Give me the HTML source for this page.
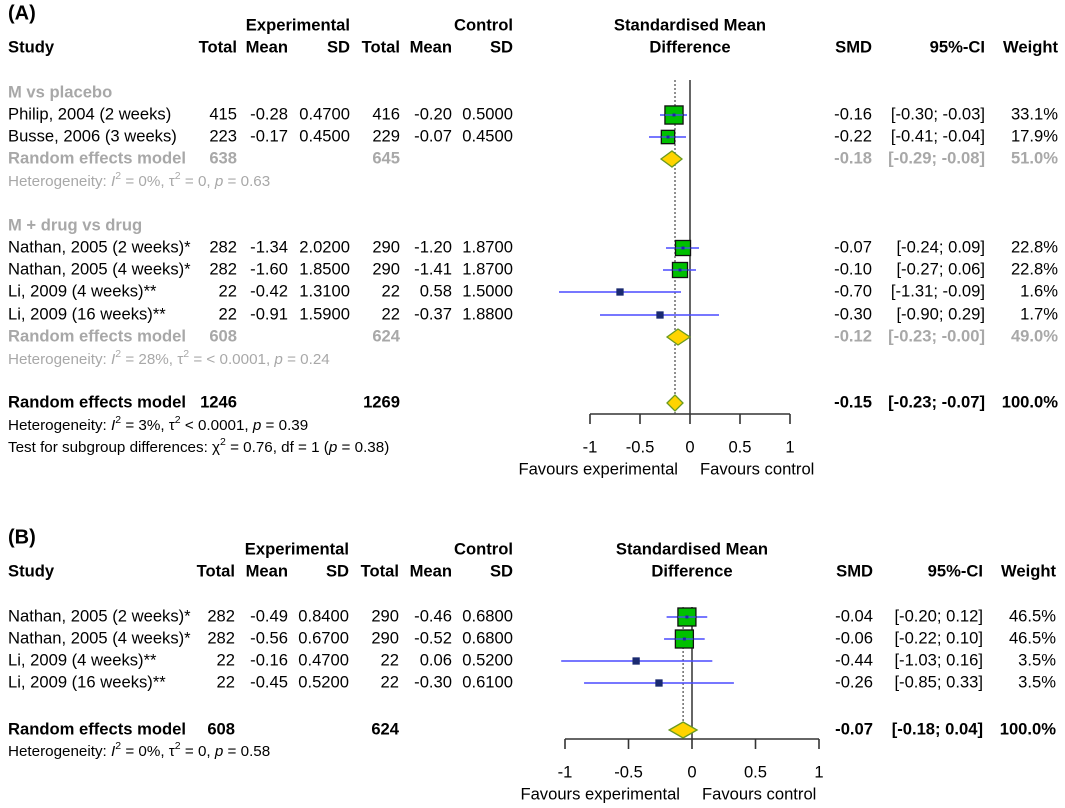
<!DOCTYPE html>
<html><head><meta charset="utf-8"><style>
html,body{margin:0;padding:0;background:#fff;width:1065px;height:808px;overflow:hidden}
svg{display:block;font-family:"Liberation Sans",Arial,sans-serif}
text{font-size:16.6px}
.b{font-weight:bold}
.g{fill:#a8a8a8}
</style></head><body>
<svg id="fp" width="1065" height="808" viewBox="0 0 1065 808"></svg>
<script>
// ---- Panel A data ----
const aStudies = ["Philip, 2004 (2 weeks)","Busse, 2006 (3 weeks)","Nathan, 2005 (2 weeks)*","Nathan, 2005 (4 weeks)*","Li, 2009 (4 weeks)**","Li, 2009 (16 weeks)**"];
const aExpTotal = [415,223,282,282,22,22];
const aExpMean = ["-0.28","-0.17","-1.34","-1.60","-0.42","-0.91"];
const aExpSD = ["0.4700","0.4500","2.0200","1.8500","1.3100","1.5900"];
const aCtlTotal = [416,229,290,290,22,22];
const aCtlMean = ["-0.20","-0.07","-1.20","-1.41","0.58","-0.37"];
const aCtlSD = ["0.5000","0.4500","1.8700","1.8700","1.5000","1.8800"];
const aSMD = [-0.16,-0.22,-0.07,-0.10,-0.70,-0.30];
const aLo = [-0.30,-0.41,-0.24,-0.27,-1.31,-0.90];
const aHi = [-0.03,-0.04,0.09,0.06,-0.09,0.29];
const aWeight = [33.1,17.9,22.8,22.8,1.6,1.7];
// pooled: subgroup1, subgroup2, overall
const aPoolSMD = [-0.18,-0.12,-0.15];
const aPoolLo = [-0.29,-0.23,-0.23];
const aPoolHi = [-0.08,-0.00,-0.07];
const aPoolW = [51.0,49.0,100.0];
const aPoolExpN = [638,608,1246];
const aPoolCtlN = [645,624,1269];
// ---- Panel B data ----
const bStudies = ["Nathan, 2005 (2 weeks)*","Nathan, 2005 (4 weeks)*","Li, 2009 (4 weeks)**","Li, 2009 (16 weeks)**"];
const bExpTotal = [282,282,22,22];
const bExpMean = ["-0.49","-0.56","-0.16","-0.45"];
const bExpSD = ["0.8400","0.6700","0.4700","0.5200"];
const bCtlTotal = [290,290,22,22];
const bCtlMean = ["-0.46","-0.52","0.06","-0.30"];
const bCtlSD = ["0.6800","0.6800","0.5200","0.6100"];
const bSMD = [-0.04,-0.06,-0.44,-0.26];
const bLo = [-0.20,-0.22,-1.03,-0.85];
const bHi = [0.12,0.10,0.16,0.33];
const bWeight = [46.5,46.5,3.5,3.5];
const bPoolSMD = [-0.07];
const bPoolLo = [-0.18];
const bPoolHi = [0.04];
const bPoolW = [100.0];
const bPoolExpN = [608];
const bPoolCtlN = [624];
const ticks = [-1,-0.5,0,0.5,1];
const tickLabels = ["-1","-0.5","0","0.5","1"];

const NS="http://www.w3.org/2000/svg";
const svg=document.getElementById('fp');
function mk(tag,attrs,parent){const e=document.createElementNS(NS,tag);for(const k in attrs)e.setAttribute(k,attrs[k]);(parent||svg).appendChild(e);return e;}
function txt(x,y,s,anchor,cls,name,parent){const t=mk('text',{x:x,y:y,'text-anchor':anchor||'start','dominant-baseline':'middle'},parent);if(cls)t.setAttribute('class',cls);t.textContent=s;


return t;}
function f2(v){return (v<0||Object.is(v,-0)?"-":"")+Math.abs(v).toFixed(2);}
function ci(lo,hi){const a=f2(lo),b=f2(hi);return "["+a+"; "+(b[0]==='-'?b:" "+b)+"]";}

function header(P,y0,label){
  txt(8,y0,label,'start','b','panel-label').setAttribute('style','font-size:20px');
  txt(P.c[2],y0+12,"Experimental",'end','b','experimental-header');
  txt(P.c[5],y0+12,"Control",'end','b','control-header');
  txt(P.zero,y0+12,"Standardised Mean",'middle','b','smd-header');
  txt(P.zero,y0+34,"Difference",'middle','b','smd-header-2');
  const h=["Total","Mean","SD","Total","Mean","SD"];
  txt(8,y0+34,"Study",'start','b','study-header');
  h.forEach((s,i)=>txt(P.c[i],y0+34,s,'end','b','col-header-'+s.toLowerCase()));
  txt(P.r[0],y0+34,"SMD",'end','b','smd-col-header');
  txt(P.r[1],y0+34,"95%-CI",'end','b','ci-col-header');
  txt(P.r[2],y0+34,"Weight",'end','b','weight-col-header');
}
function axis(P){
  const g=mk('g',{});
  const X=v=>P.zero+v*P.k;
  mk('line',{x1:X(ticks[0]),x2:X(ticks[ticks.length-1]),y1:P.ay,y2:P.ay,stroke:'#333','stroke-width':1.6},g);
  ticks.forEach((t,i)=>{mk('line',{x1:X(t),x2:X(t),y1:P.ay,y2:P.ay+10,stroke:'#333','stroke-width':1.6},g);
    txt(X(t),P.ay+34,tickLabels[i],'middle','','tick-label',g);});
  txt(P.zero-12,P.ay+56,"Favours experimental",'end','','favours-experimental',g);
  txt(P.zero+10,P.ay+56,"Favours control",'start','','favours-control',g);
  mk('line',{x1:X(0),x2:X(0),y1:P.top,y2:P.ay,stroke:'#333','stroke-width':1.5});
  mk('line',{x1:X(P.dot),x2:X(P.dot),y1:P.top,y2:P.ay,stroke:'#555','stroke-width':1.3,'stroke-dasharray':'2,2'});
}
function study(P,y,i,D){
  const X=v=>P.zero+v*P.k;
  txt(8,y,D.st[i],'start','','study-name');
  [D.et[i],D.em[i],D.es[i],D.ct[i],D.cm[i],D.cs[i]].forEach((v,j)=>txt(P.c[j],y,String(v),'end','','study-value'));
  txt(P.r[0],y,f2(D.smd[i]),'end','','smd-value');
  txt(P.r[1],y,ci(D.lo[i],D.hi[i]),'end','','ci-value').setAttribute('xml:space','preserve');
  txt(P.r[2],y,D.w[i].toFixed(1)+"%",'end','','weight-value');
  const ln=mk('line',{x1:X(D.lo[i]),x2:X(D.hi[i]),y1:y,y2:y,stroke:'#4a4aff','stroke-width':1.4});
  
  
  const s=Math.max(6,P.sq*Math.sqrt(D.w[i]));
  const small=s<8;
  const r=mk('rect',{x:X(D.smd[i])-s/2,y:y-s/2,width:s,height:s,fill:small?'#1a2a70':'#00c000',stroke:small?'#1a2a70':'#111','stroke-width':1.3});
  
  
  if(!small){mk('line',{x1:X(Math.max(D.lo[i],D.smd[i]-s/2/P.k)),x2:X(Math.min(D.hi[i],D.smd[i]+s/2/P.k)),y1:y,y2:y,stroke:'#4a4aff','stroke-width':1.2});
   mk('rect',{x:X(D.smd[i])-1.5,y:y-1.5,width:3,height:3,fill:'#2222aa'});}
}
function pooled(P,y,j,D,cls,label){
  const X=v=>P.zero+v*P.k;
  txt(8,y,label,'start',cls,'pooled-label');
  txt(P.c[0],y,String(D.pe[j]),'end',cls,'pooled-exp-total');
  txt(P.c[3],y,String(D.pc[j]),'end',cls,'pooled-ctl-total');
  txt(P.r[0],y,f2(D.psmd[j]),'end',cls,'pooled-smd');
  txt(P.r[1],y,ci(D.plo[j],D.phi[j]),'end',cls,'pooled-ci').setAttribute('xml:space','preserve');
  txt(P.r[2],y,D.pw[j].toFixed(1)+"%",'end',cls,'pooled-weight');
  const d=mk('polygon',{points:`${X(D.plo[j])},${y} ${X(D.psmd[j])},${y-P.dh} ${X(D.phi[j])},${y} ${X(D.psmd[j])},${y+P.dh}`,fill:'#ffd400',stroke:'#6a9a20','stroke-width':1.3});
  
  
}
function het(y,html,gray,name){
  const t=mk('text',{x:8,y:y,'dominant-baseline':'middle',style:'font-size:15.2px'});
  if(gray)t.setAttribute('class','g');
  t.innerHTML=html;
  
  
}
const sup=s=>`<tspan dy="-6" style="font-size:10.5px">${s}</tspan><tspan dy="6"> </tspan>`;

// Panel A
const PA={zero:690,k:100,c:[237,288,350,400,452,513],r:[872,985,1058],ay:414,top:80,dot:aPoolSMD[2],sq:3.15,dh:8};
const DA={st:aStudies,et:aExpTotal,em:aExpMean,es:aExpSD,ct:aCtlTotal,cm:aCtlMean,cs:aCtlSD,smd:aSMD,lo:aLo,hi:aHi,w:aWeight,pe:aPoolExpN,pc:aPoolCtlN,psmd:aPoolSMD,plo:aPoolLo,phi:aPoolHi,pw:aPoolW};
header(PA,14,"(A)");
axis(PA);
txt(8,93,"M vs placebo",'start','b g','subgroup-title');
study(PA,115,0,DA);study(PA,137,1,DA);
pooled(PA,159,0,DA,'b g',"Random effects model");
het(182,`Heterogeneity: <tspan font-style="italic">I</tspan>${sup(2)}= 0%, τ${sup(2)}= 0, <tspan font-style="italic">p</tspan> = 0.63`,true,'heterogeneity-sub1');
txt(8,226,"M + drug vs drug",'start','b g','subgroup-title');
study(PA,248,2,DA);study(PA,270,3,DA);study(PA,292,4,DA);study(PA,315,5,DA);
pooled(PA,337,1,DA,'b g',"Random effects model");
het(360,`Heterogeneity: <tspan font-style="italic">I</tspan>${sup(2)}= 28%, τ${sup(2)}= &lt; 0.0001, <tspan font-style="italic">p</tspan> = 0.24`,true,'heterogeneity-sub2');
pooled(PA,403,2,DA,'b',"Random effects model");
het(426,`Heterogeneity: <tspan font-style="italic">I</tspan>${sup(2)}= 3%, τ${sup(2)}&lt; 0.0001, <tspan font-style="italic">p</tspan> = 0.39`,false,'heterogeneity-overall');
het(448,`Test for subgroup differences: χ${sup(2)}= 0.76, df = 1 (<tspan font-style="italic">p</tspan> = 0.38)`,false,'subgroup-test');

// Panel B
const PB={zero:692,k:127,c:[235,288,349,399,452,513],r:[873,983,1056],ay:739,top:607,dot:bPoolSMD[0],sq:2.64,dh:8};
const DB={st:bStudies,et:bExpTotal,em:bExpMean,es:bExpSD,ct:bCtlTotal,cm:bCtlMean,cs:bCtlSD,smd:bSMD,lo:bLo,hi:bHi,w:bWeight,pe:bPoolExpN,pc:bPoolCtlN,psmd:bPoolSMD,plo:bPoolLo,phi:bPoolHi,pw:bPoolW};
header(PB,538,"(B)");
axis(PB);
study(PB,617,0,DB);study(PB,639,1,DB);study(PB,661,2,DB);study(PB,683,3,DB);
pooled(PB,730,0,DB,'b',"Random effects model");
het(752,`Heterogeneity: <tspan font-style="italic">I</tspan>${sup(2)}= 0%, τ${sup(2)}= 0, <tspan font-style="italic">p</tspan> = 0.58`,false,'heterogeneity-b');
</script>
</body></html>
